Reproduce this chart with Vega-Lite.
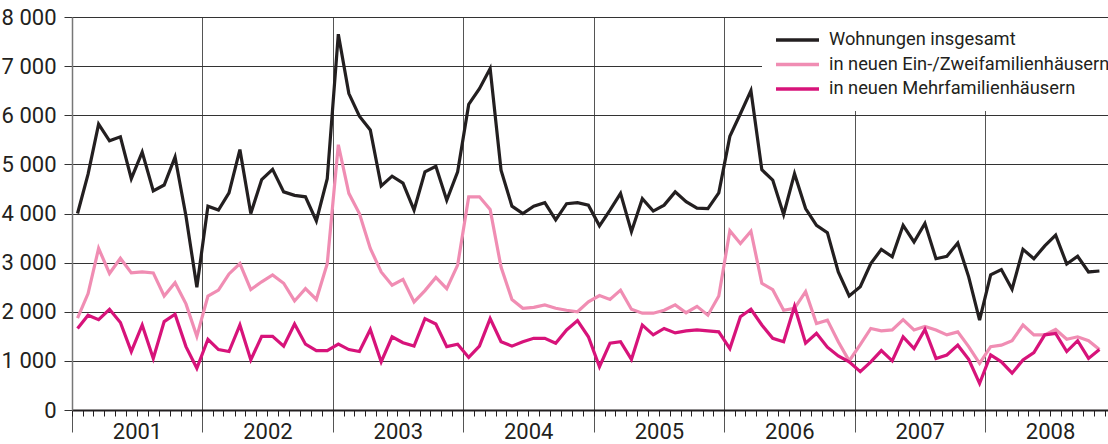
{
  "$schema": "https://vega.github.io/schema/vega-lite/v6.json",
  "width": 1036,
  "height": 393,
  "autosize": {"type": "none"},
  "padding": {"left": 72, "top": 17, "right": 0, "bottom": 34},
  "config": {
    "view": {"stroke": null},
    "font": "Roboto"
  },
  "data": {
    "values": [
      {"m": "2001-01", "a": 4000, "b": 1870, "c": 1660},
      {"m": "2001-02", "a": 4800, "b": 2370, "c": 1930},
      {"m": "2001-03", "a": 5820, "b": 3290, "c": 1840},
      {"m": "2001-04", "a": 5480, "b": 2780, "c": 2050},
      {"m": "2001-05", "a": 5560, "b": 3090, "c": 1780},
      {"m": "2001-06", "a": 4710, "b": 2790, "c": 1190},
      {"m": "2001-07", "a": 5250, "b": 2810, "c": 1730},
      {"m": "2001-08", "a": 4460, "b": 2790, "c": 1050},
      {"m": "2001-09", "a": 4580, "b": 2320, "c": 1800},
      {"m": "2001-10", "a": 5150, "b": 2590, "c": 1950},
      {"m": "2001-11", "a": 3950, "b": 2160, "c": 1290},
      {"m": "2001-12", "a": 2500, "b": 1500, "c": 850},
      {"m": "2002-01", "a": 4150, "b": 2320, "c": 1440},
      {"m": "2002-02", "a": 4070, "b": 2440, "c": 1230},
      {"m": "2002-03", "a": 4420, "b": 2770, "c": 1190},
      {"m": "2002-04", "a": 5300, "b": 2980, "c": 1730},
      {"m": "2002-05", "a": 4000, "b": 2450, "c": 1020},
      {"m": "2002-06", "a": 4690, "b": 2610, "c": 1500},
      {"m": "2002-07", "a": 4900, "b": 2750, "c": 1500},
      {"m": "2002-08", "a": 4440, "b": 2580, "c": 1300},
      {"m": "2002-09", "a": 4370, "b": 2220, "c": 1750},
      {"m": "2002-10", "a": 4340, "b": 2470, "c": 1340},
      {"m": "2002-11", "a": 3850, "b": 2250, "c": 1210},
      {"m": "2002-12", "a": 4710, "b": 2980, "c": 1210},
      {"m": "2003-01", "a": 7650, "b": 5400, "c": 1340},
      {"m": "2003-02", "a": 6440, "b": 4410, "c": 1230},
      {"m": "2003-03", "a": 5980, "b": 4000, "c": 1190},
      {"m": "2003-04", "a": 5700, "b": 3290, "c": 1640},
      {"m": "2003-05", "a": 4560, "b": 2810, "c": 980},
      {"m": "2003-06", "a": 4760, "b": 2540, "c": 1490},
      {"m": "2003-07", "a": 4620, "b": 2660, "c": 1370},
      {"m": "2003-08", "a": 4070, "b": 2200, "c": 1300},
      {"m": "2003-09", "a": 4850, "b": 2430, "c": 1860},
      {"m": "2003-10", "a": 4960, "b": 2700, "c": 1750},
      {"m": "2003-11", "a": 4270, "b": 2470, "c": 1290},
      {"m": "2003-12", "a": 4850, "b": 2950, "c": 1340},
      {"m": "2004-01", "a": 6220, "b": 4340, "c": 1070},
      {"m": "2004-02", "a": 6540, "b": 4340, "c": 1300},
      {"m": "2004-03", "a": 6950, "b": 4080, "c": 1860},
      {"m": "2004-04", "a": 4880, "b": 2910, "c": 1390},
      {"m": "2004-05", "a": 4150, "b": 2250, "c": 1300},
      {"m": "2004-06", "a": 4000, "b": 2070, "c": 1390},
      {"m": "2004-07", "a": 4150, "b": 2090, "c": 1460},
      {"m": "2004-08", "a": 4220, "b": 2140, "c": 1460},
      {"m": "2004-09", "a": 3870, "b": 2070, "c": 1360},
      {"m": "2004-10", "a": 4200, "b": 2030, "c": 1630},
      {"m": "2004-11", "a": 4220, "b": 2000, "c": 1820},
      {"m": "2004-12", "a": 4170, "b": 2200, "c": 1490},
      {"m": "2005-01", "a": 3750, "b": 2330, "c": 880},
      {"m": "2005-02", "a": 4070, "b": 2250, "c": 1360},
      {"m": "2005-03", "a": 4410, "b": 2440, "c": 1390},
      {"m": "2005-04", "a": 3630, "b": 2050, "c": 1030},
      {"m": "2005-05", "a": 4300, "b": 1970, "c": 1730},
      {"m": "2005-06", "a": 4050, "b": 1970, "c": 1530},
      {"m": "2005-07", "a": 4170, "b": 2030, "c": 1660},
      {"m": "2005-08", "a": 4440, "b": 2140, "c": 1570},
      {"m": "2005-09", "a": 4240, "b": 1980, "c": 1610},
      {"m": "2005-10", "a": 4110, "b": 2110, "c": 1630},
      {"m": "2005-11", "a": 4100, "b": 1930, "c": 1610},
      {"m": "2005-12", "a": 4420, "b": 2320, "c": 1590},
      {"m": "2006-01", "a": 5570, "b": 3650, "c": 1250},
      {"m": "2006-02", "a": 6030, "b": 3390, "c": 1900},
      {"m": "2006-03", "a": 6500, "b": 3640, "c": 2050},
      {"m": "2006-04", "a": 4890, "b": 2580, "c": 1730},
      {"m": "2006-05", "a": 4680, "b": 2450, "c": 1460},
      {"m": "2006-06", "a": 3980, "b": 2030, "c": 1390},
      {"m": "2006-07", "a": 4810, "b": 2070, "c": 2110},
      {"m": "2006-08", "a": 4100, "b": 2410, "c": 1360},
      {"m": "2006-09", "a": 3760, "b": 1760, "c": 1560},
      {"m": "2006-10", "a": 3610, "b": 1830, "c": 1280},
      {"m": "2006-11", "a": 2810, "b": 1390, "c": 1100},
      {"m": "2006-12", "a": 2320, "b": 1000, "c": 980},
      {"m": "2007-01", "a": 2510, "b": 1330, "c": 780},
      {"m": "2007-02", "a": 2980, "b": 1660, "c": 980},
      {"m": "2007-03", "a": 3270, "b": 1610, "c": 1210},
      {"m": "2007-04", "a": 3120, "b": 1630, "c": 1000},
      {"m": "2007-05", "a": 3760, "b": 1840, "c": 1490},
      {"m": "2007-06", "a": 3420, "b": 1630, "c": 1250},
      {"m": "2007-07", "a": 3800, "b": 1700, "c": 1640},
      {"m": "2007-08", "a": 3080, "b": 1630, "c": 1050},
      {"m": "2007-09", "a": 3130, "b": 1530, "c": 1120},
      {"m": "2007-10", "a": 3400, "b": 1590, "c": 1320},
      {"m": "2007-11", "a": 2710, "b": 1290, "c": 1030},
      {"m": "2007-12", "a": 1830, "b": 950, "c": 540},
      {"m": "2008-01", "a": 2750, "b": 1290, "c": 1120},
      {"m": "2008-02", "a": 2860, "b": 1320, "c": 980},
      {"m": "2008-03", "a": 2460, "b": 1410, "c": 750},
      {"m": "2008-04", "a": 3270, "b": 1730, "c": 1020},
      {"m": "2008-05", "a": 3080, "b": 1530, "c": 1170},
      {"m": "2008-06", "a": 3340, "b": 1530, "c": 1530},
      {"m": "2008-07", "a": 3560, "b": 1640, "c": 1560},
      {"m": "2008-08", "a": 2970, "b": 1440, "c": 1190},
      {"m": "2008-09", "a": 3130, "b": 1490, "c": 1410},
      {"m": "2008-10", "a": 2810, "b": 1410, "c": 1050},
      {"m": "2008-11", "a": 2830, "b": 1230, "c": 1230}
    ]
  },
  "transform": [{"fold": ["a", "b", "c"], "as": ["s", "v"]}],
  "layer": [
    {
      "mark": {"type": "line", "strokeWidth": 3.2, "strokeJoin": "miter"},
      "encoding": {
        "x": {
          "field": "m",
          "timeUnit": "utcyearmonth",
          "type": "temporal",
          "bandPosition": 0.5,
          "scale": {
            "type": "utc",
            "domain": [
              {"year": 2001, "month": 1, "date": 1, "utc": true},
              {"year": 2008, "month": 12, "date": 10, "utc": true}
            ]
          },
          "axis": {
            "orient": "bottom",
            "title": null,
            "tickCount": {"interval": "year", "step": 1},
            "grid": true,
            "gridColor": "#555555",
            "gridWidth": 1,
            "tickSize": 22,
            "tickColor": "#555555",
            "tickWidth": 1,
            "domain": true,
            "domainColor": "#231f20",
            "domainWidth": 2,
            "labelExpr": "utcFormat(datum.value, '%Y')",
            "labelOffset": 65,
            "labelPadding": -11,
            "labelFlush": false,
            "labelOverlap": false,
            "labelBound": false,
            "labelFontSize": 22,
            "labelColor": "#231f20"
          }
        },
        "y": {
          "field": "v",
          "type": "quantitative",
          "scale": {"domain": [0, 8000]},
          "axis": {
            "title": null,
            "values": [0, 1000, 2000, 3000, 4000, 5000, 6000, 7000, 8000],
            "grid": true,
            "gridColor": "#333333",
            "gridWidth": 1,
            "tickSize": 8,
            "tickColor": "#333333",
            "domain": true,
            "domainColor": "#777777",
            "domainWidth": 1.5,
            "labelExpr": "replace(format(datum.value, ','), ',', ' ')",
            "labelFontSize": 22,
            "labelColor": "#231f20",
            "labelPadding": 8,
            "labelBaseline": "middle"
          }
        },
        "color": {
          "field": "s",
          "type": "nominal",
          "scale": {"domain": ["a", "b", "c"], "range": ["#231f20", "#f08db3", "#d7137a"]},
          "legend": {
            "orient": "none",
            "legendX": 690,
            "legendY": 1,
            "title": null,
            "fillColor": "white",
            "padding": 12,
            "symbolType": "stroke",
            "symbolSize": 1849,
            "symbolStrokeWidth": 3.5,
            "clipHeight": 20,
            "rowPadding": 4.5,
            "labelFontSize": 18.3,
            "labelOffset": 8,
            "labelColor": "#231f20",
            "labelLimit": 400,
            "labelExpr": "datum.value === 'a' ? 'Wohnungen insgesamt' : datum.value === 'b' ? 'in neuen Ein-/Zweifamilienhäusern' : 'in neuen Mehrfamilienhäusern'"
          }
        }
      }
    },
    {
      "mark": {"type": "line", "opacity": 0},
      "encoding": {
        "x": {
          "field": "m",
          "timeUnit": "utcyearmonth",
          "type": "temporal",
          "bandPosition": 0.5,
          "axis": {
            "orient": "bottom",
            "title": null,
            "tickCount": {"interval": "month", "step": 1},
            "labels": false,
            "grid": false,
            "domain": false,
            "tickSize": 6,
            "tickColor": "#231f20",
            "tickWidth": 1
          }
        },
        "y": {"field": "v", "type": "quantitative"},
        "detail": {"field": "s"}
      }
    }
  ],
  "resolve": {"axis": {"x": "independent"}}
}
